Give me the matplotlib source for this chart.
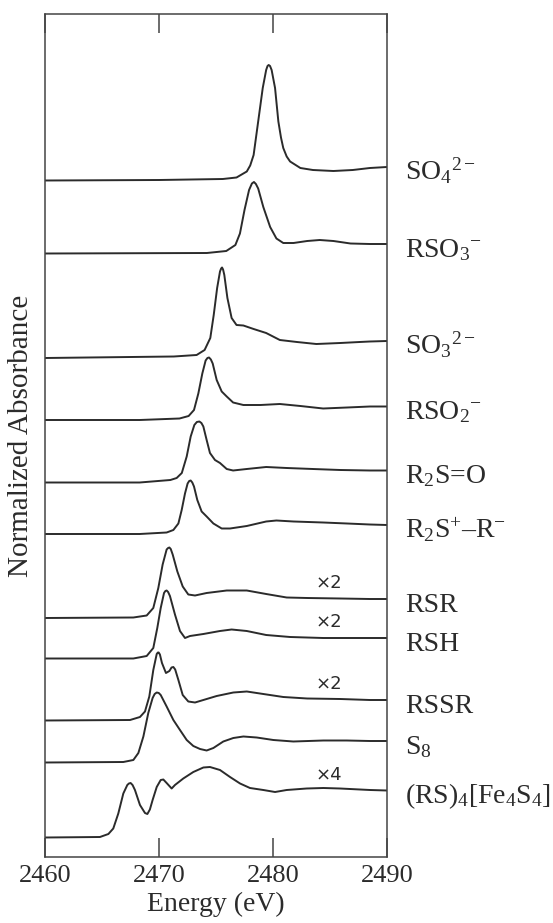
import matplotlib
matplotlib.use('Agg')
import matplotlib.pyplot as plt

plt.rcParams['font.family'] = ['Liberation Serif', 'DejaVu Serif']
plt.rcParams['mathtext.fontset'] = 'custom'
plt.rcParams['mathtext.rm'] = 'Liberation Serif'
plt.rcParams['mathtext.it'] = 'Liberation Serif:italic'
plt.rcParams['mathtext.bf'] = 'Liberation Serif:bold'
plt.rcParams['xtick.direction'] = 'in'
plt.rcParams['xtick.top'] = True
plt.rcParams['xtick.bottom'] = True
plt.rcParams['xtick.major.size'] = 13.5
plt.rcParams['xtick.major.width'] = 1.1
plt.rcParams['xtick.major.pad'] = 6
plt.rcParams['xtick.color'] = '#444444'
plt.rcParams['xtick.labelsize'] = 19

# S K-edge spectra, energy (eV) and absorbance above each pre-edge baseline
e_so4 = [2460, 2470, 2475.6, 2476.8, 2477.7, 2478.0, 2478.3, 2478.7, 2479.1, 2479.4, 2479.52, 2479.62, 2479.74,
         2479.88, 2480.18, 2480.47, 2480.7, 2480.9, 2481.2, 2481.5, 2482.4, 2483.5, 2485.3, 2487.0, 2488.5, 2490]
a_so4 = [0, 0.01, 0.03, 0.06, 0.18, 0.30, 0.51, 1.18, 1.85, 2.21, 2.29, 2.31, 2.29,
         2.21, 1.85, 1.18, 0.86, 0.65, 0.48, 0.38, 0.25, 0.21, 0.19, 0.21, 0.25, 0.27]

e_rso3 = [2460, 2474.2, 2475.9, 2476.7, 2477.1, 2477.5, 2477.9, 2478.15, 2478.33, 2478.5, 2478.7, 2479.15,
          2479.75, 2480.3, 2480.9, 2481.8, 2483.0, 2484.1, 2485.3, 2486.8, 2488.5, 2490]
a_rso3 = [0, 0.01, 0.05, 0.17, 0.40, 0.87, 1.27, 1.40, 1.43, 1.39, 1.30, 0.93,
          0.53, 0.30, 0.21, 0.21, 0.25, 0.27, 0.25, 0.20, 0.19, 0.19]

e_so3 = [2460, 2471.3, 2473.3, 2474.0, 2474.5, 2474.8, 2475.1, 2475.35, 2475.45, 2475.53, 2475.62, 2475.73, 2476.0,
         2476.37, 2476.8, 2477.4, 2478.3, 2479.4, 2480.6, 2482.1, 2483.8, 2485.9, 2487.6, 2488.5, 2490]
a_so3 = [-0.01, 0.02, 0.05, 0.15, 0.39, 0.85, 1.39, 1.72, 1.78, 1.80, 1.76, 1.65, 1.19,
         0.79, 0.65, 0.64, 0.57, 0.49, 0.35, 0.31, 0.27, 0.29, 0.31, 0.32, 0.33]

e_rso2 = [2460, 2468.3, 2471.8, 2472.6, 2473.07, 2473.45, 2473.8, 2474.09, 2474.25, 2474.39, 2474.55, 2474.71,
          2475.06, 2475.5, 2475.94, 2476.5, 2477.4, 2478.9, 2480.6, 2482.4, 2484.4, 2486.5, 2488.5, 2490]
a_rso2 = [0, 0, 0.03, 0.08, 0.20, 0.53, 0.93, 1.19, 1.24, 1.25, 1.21, 1.13,
          0.80, 0.57, 0.47, 0.35, 0.30, 0.30, 0.32, 0.28, 0.23, 0.25, 0.27, 0.27]

e_r2so = [2460, 2468.3, 2471.0, 2471.55, 2472.0, 2472.43, 2472.78, 2473.1, 2473.32, 2473.54, 2473.72, 2473.89,
          2474.18, 2474.47, 2474.91, 2475.35, 2475.94, 2476.5, 2477.7, 2479.4, 2481.2, 2483.5, 2485.9, 2488.5, 2490]
a_r2so = [0, 0, 0.05, 0.09, 0.19, 0.52, 0.92, 1.15, 1.21, 1.22, 1.19, 1.12,
          0.85, 0.59, 0.45, 0.39, 0.27, 0.24, 0.27, 0.31, 0.29, 0.27, 0.25, 0.24, 0.24]

e_ylide = [2460, 2468.3, 2470.67, 2471.26, 2471.7, 2471.99, 2472.28, 2472.51, 2472.65, 2472.78, 2472.92, 2473.07,
           2473.36, 2473.74, 2474.18, 2474.77, 2475.5, 2476.23, 2477.7, 2479.4, 2480.3, 2481.8, 2484.4, 2486.5,
           2488.5, 2490]
a_ylide = [0, 0, 0.03, 0.08, 0.21, 0.48, 0.81, 1.01, 1.06, 1.07, 1.03, 0.95,
           0.68, 0.45, 0.35, 0.21, 0.11, 0.11, 0.16, 0.25, 0.27, 0.25, 0.23, 0.21,
           0.19, 0.18]

e_rsr = [2460, 2467.75, 2468.92, 2469.5, 2469.94, 2470.32, 2470.67, 2470.8, 2470.91, 2471.03, 2471.2, 2471.61,
         2472.08, 2472.57, 2473.16, 2474.18, 2475.94, 2477.7, 2479.4, 2481.2, 2483.0, 2485.9, 2488.5, 2490]
a_rsr = [0, 0.01, 0.05, 0.20, 0.60, 1.07, 1.37, 1.40, 1.41, 1.38, 1.27, 0.93,
         0.63, 0.47, 0.45, 0.50, 0.55, 0.55, 0.48, 0.41, 0.40, 0.39, 0.38, 0.38]

e_rsh = [2460, 2467.75, 2468.92, 2469.5, 2469.85, 2470.15, 2470.44, 2470.56, 2470.67, 2470.8, 2470.96, 2471.4,
         2471.84, 2472.28, 2472.72, 2473.89, 2475.35, 2476.37, 2477.7, 2479.4, 2481.5, 2484.4, 2488.5, 2490]
a_rsh = [0, 0, 0.05, 0.21, 0.61, 1.01, 1.31, 1.35, 1.36, 1.33, 1.25, 0.88,
         0.55, 0.41, 0.45, 0.49, 0.55, 0.58, 0.55, 0.47, 0.43, 0.41, 0.41, 0.41]

e_rssr = [2460, 2467.46, 2468.33, 2468.77, 2469.15, 2469.5, 2469.8, 2469.9, 2469.97, 2470.08, 2470.26, 2470.61,
          2470.91, 2471.1, 2471.26, 2471.42, 2471.7, 2472.08, 2472.57, 2473.16, 2473.89, 2475.06, 2476.52, 2477.7,
          2479.15, 2480.9, 2483.0, 2485.9, 2488.5, 2490]
a_rssr = [0, 0.01, 0.07, 0.18, 0.48, 1.01, 1.33, 1.36, 1.36, 1.32, 1.15, 0.95,
          0.99, 1.06, 1.07, 1.02, 0.81, 0.51, 0.38, 0.36, 0.41, 0.49, 0.56, 0.58,
          0.53, 0.47, 0.44, 0.43, 0.41, 0.41]

e_s8 = [2460, 2466.87, 2467.75, 2468.19, 2468.63, 2469.06, 2469.44, 2469.62, 2469.8, 2469.98, 2470.15, 2470.67,
        2471.26, 2471.84, 2472.43, 2473.01, 2473.6, 2474.18, 2474.77, 2475.64, 2476.52, 2477.4, 2478.57, 2480.03,
        2481.78, 2484.42, 2486.46, 2488.5, 2490]
a_s8 = [0, 0.01, 0.05, 0.19, 0.52, 0.99, 1.29, 1.37, 1.40, 1.39, 1.35, 1.12,
        0.85, 0.65, 0.45, 0.33, 0.27, 0.24, 0.29, 0.42, 0.49, 0.52, 0.50, 0.45,
        0.42, 0.44, 0.44, 0.43, 0.43]

e_fes = [2460, 2464.82, 2465.56, 2465.99, 2466.43, 2466.87, 2467.22, 2467.36, 2467.51, 2467.68, 2467.89, 2468.33,
         2468.77, 2468.98, 2469.2, 2469.44, 2469.8, 2470.15, 2470.38, 2470.67, 2471.11, 2471.4, 2472.13, 2473.01,
         2473.89, 2474.47, 2475.35, 2476.23, 2477.11, 2477.98, 2479.15, 2480.18, 2481.2, 2482.95, 2484.42, 2485.88,
         2487.63, 2488.51, 2490]
a_fes = [0, 0.01, 0.07, 0.18, 0.48, 0.88, 1.05, 1.08, 1.09, 1.05, 0.95, 0.65,
         0.49, 0.47, 0.56, 0.75, 1.01, 1.15, 1.16, 1.09, 0.98, 1.05, 1.18, 1.31,
         1.40, 1.41, 1.35, 1.21, 1.08, 0.99, 0.95, 0.91, 0.95, 0.98, 0.99, 0.98,
         0.96, 0.95, 0.94]

names = [r'SO$_4$$^{2-}$', r'RSO$_3$$^{-}$', r'SO$_3$$^{2-}$', r'RSO$_2$$^{-}$', r'R$_2$S=O',
         r'R$_2$S$^{+}$–R$^{-}$', 'RSR', 'RSH', 'RSSR', r'S$_8$', r'(RS)$_4$[Fe$_4$S$_4$]']
energies = [e_so4, e_rso3, e_so3, e_rso2, e_r2so, e_ylide, e_rsr, e_rsh, e_rssr, e_s8, e_fes]
absorb = [a_so4, a_rso3, a_so3, a_rso2, a_r2so, a_ylide, a_rsr, a_rsh, a_rssr, a_s8, a_fes]
offsets = [13.53, 12.07, 9.99, 8.74, 7.49, 6.46, 4.78, 3.97, 2.73, 1.89, 0.39]
scales = ['', '', '', '', '', '', '×2', '×2', '×2', '', '×4']

ink = '#2b2b2b'

fig = plt.figure(figsize=(5.53, 9.23), dpi=100)
ax = fig.add_axes([45 / 553, 1 - 857 / 923, 342 / 553, 843 / 923])

for name, e, a, off, sc in zip(names, energies, absorb, offsets, scales):
    y = [v + off for v in a]
    ax.plot(e, y, color=ink, lw=1.4, solid_joinstyle='round')
    ax.text(2491.6, y[-1] - 0.26, name, fontsize=20, color=ink, va='baseline', ha='left', clip_on=False)
    if sc:
        ax.text(2484.9, y[-1] + 0.32, sc, fontsize=13, color=ink, va='center', ha='center',
                family=['DejaVu Sans'])

ax.set_xlim(2460, 2490)
ax.set_ylim(0, 16.86)
ax.set_xticks([2460, 2470, 2480, 2490])
ax.set_yticks([])
for lbl in ax.get_xticklabels():
    lbl.set_color(ink)
for sp in ax.spines.values():
    sp.set_color('#444444')
    sp.set_linewidth(1.1)

ax.set_xlabel('Energy (eV)', fontsize=20, color=ink, labelpad=3)
ax.set_ylabel('Normalized Absorbance', fontsize=21, color=ink, labelpad=8)

fig.savefig('out.png', dpi=100)
